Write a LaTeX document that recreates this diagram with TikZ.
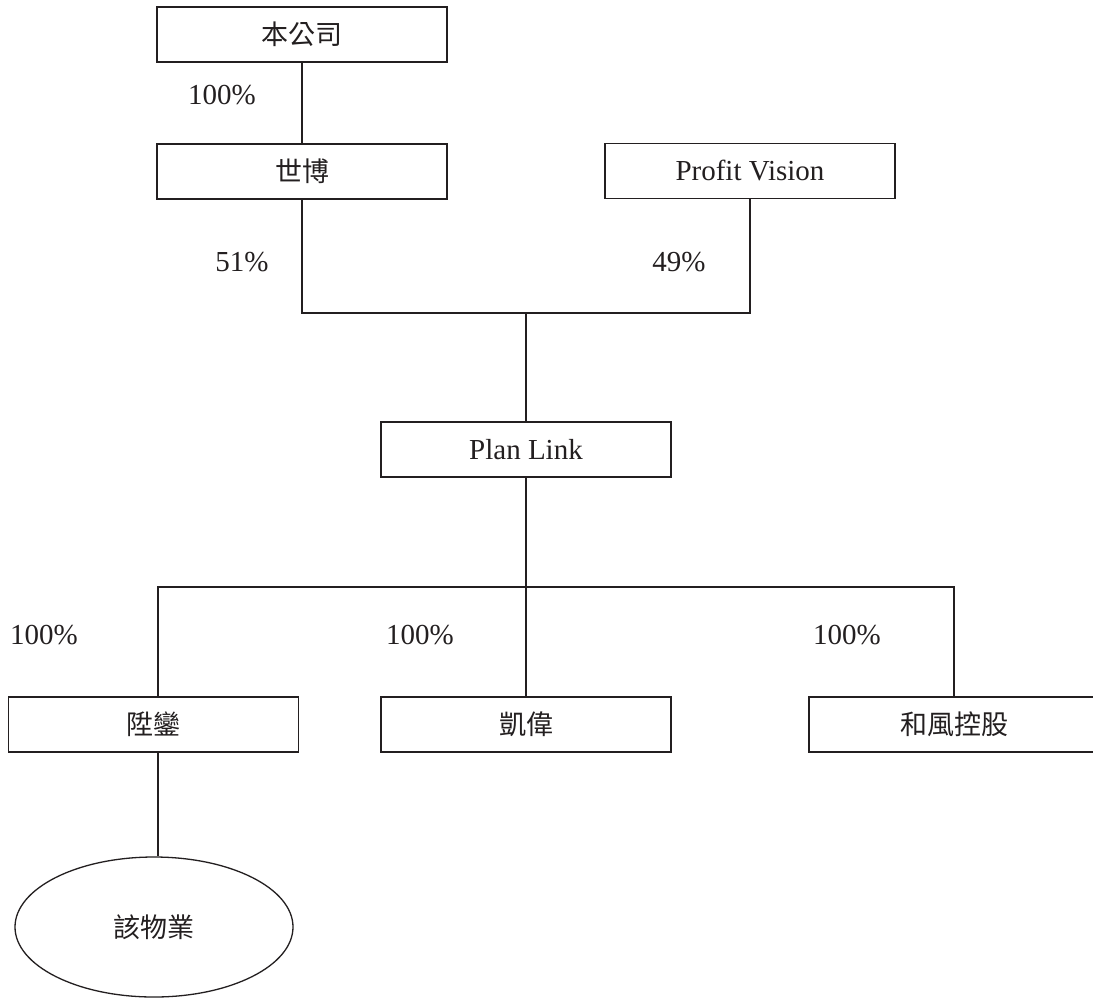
\documentclass[tikz,border=0pt]{standalone}
\usepackage{fontspec}
\setmainfont{Liberation Serif}
\newfontfamily\cjk{Noto Sans CJK TC}
\usetikzlibrary{shapes.geometric}
\definecolor{ink}{HTML}{231F20}
\tikzset{
  box/.style={draw=ink, line width=0.65pt, rectangle, minimum width=145pt, minimum height=27.5pt, inner sep=0pt, text=ink, font=\fontsize{14.5}{16}\selectfont},
  oval/.style={draw=ink, line width=0.65pt, ellipse, minimum width=139pt, minimum height=70pt, inner sep=0pt, text=ink},
  pct/.style={text=ink, inner sep=0pt, font=\fontsize{14.5}{16}\selectfont},
  link/.style={draw=ink, line width=0.65pt},
  zh/.style={font=\cjk\fontsize{13.5}{15}\selectfont}
}
\begin{document}
\begin{tikzpicture}[x=0.5pt, y=-0.5pt]
\useasboundingbox (0,0) rectangle (1093,998);
\fill[white] (0,0) rectangle (1093,998);
\node[box, zh] (top) at (302,34.5) {本公司};
\node[box, zh] (sb) at (302,171.5) {世博};
\node[box] (pv) at (750,171) {Profit Vision};
\node[box] (pl) at (526,449.5) {Plan Link};
\node[box, zh] (sl) at (153.5,724.5) {陞鑾};
\node[box, zh] (kw) at (526,724.5) {凱偉};
\node[box, zh] (hf) at (954,724.5) {和風控股};
\node[oval, zh] (wy) at (154,927) {該物業};
\coordinate (j1) at (526,313);
\coordinate (j2) at (526,587);
\coordinate (lt) at (158,587);
\coordinate (lb) at (158,752);
\node[pct] (p1) at (222,95) {100\%};
\node[pct] (p2) at (242,262) {51\%};
\node[pct] (p3) at (679,262) {49\%};
\node[pct] (p4) at (44,635) {100\%};
\node[pct] (p5) at (420,635) {100\%};
\node[pct] (p6) at (847,635) {100\%};
\draw[link] (top.south) -- (sb.north);
\draw[link] (sb.south) |- (j1) -| (pv.south);
\draw[link] (j1) -- (pl.north);
\draw[link] (pl.south) -- (j2);
\draw[link] (lt |- sl.north) -- (lt) -- (hf.north |- lt) -- (hf.north);
\draw[link] (j2) -- (kw.north);
\draw[link] (lb) -- (lb |- wy.north);
\end{tikzpicture}
\end{document}
